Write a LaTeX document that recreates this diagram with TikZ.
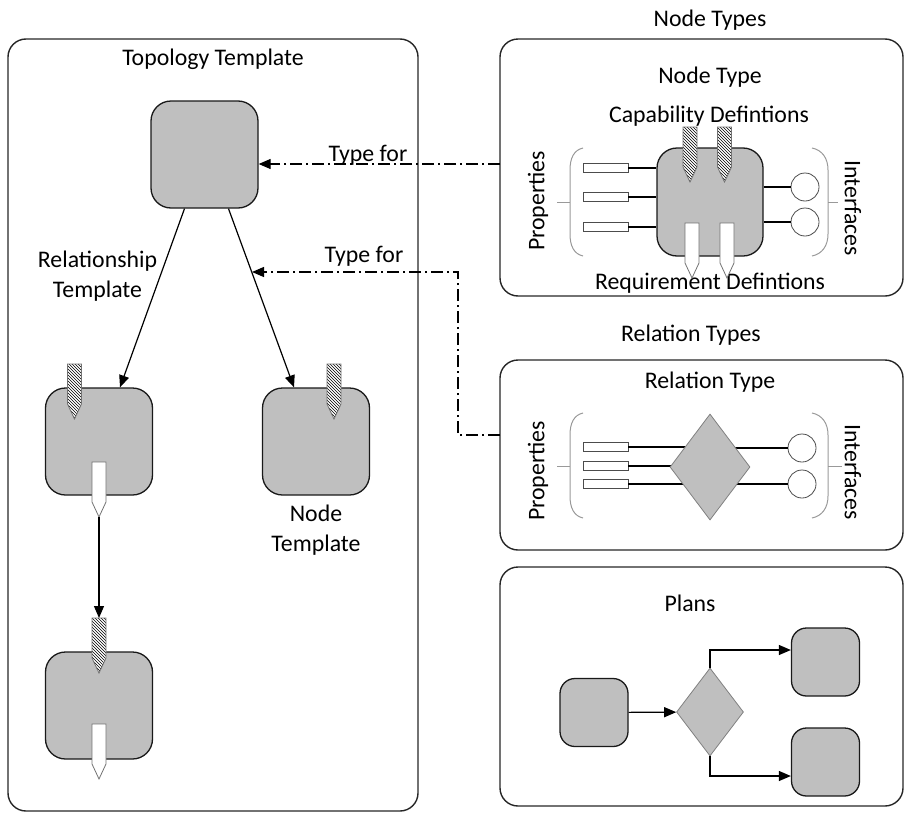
\documentclass[tikz,border=0pt]{standalone}
\usepackage{fontspec}
\setmainfont{Carlito}
\usetikzlibrary{shapes.geometric,arrows.meta,patterns,calc}

\begin{document}
\begin{tikzpicture}[x=1pt,y=-1pt,
  lbl/.style={font=\fontsize{23.8}{29.5}\selectfont, inner sep=0pt, align=center},
  box/.style={draw=black!85, line width=1.4pt, rounded corners=18pt, inner sep=0pt},
  elem/.style={draw=black!90, line width=1.3pt, fill=gray!50, rounded corners=20pt,
    minimum width=107pt, minimum height=107pt, inner sep=0pt},
  small/.style={elem, rounded corners=15pt, minimum width=68pt, minimum height=68pt},
  dia/.style={diamond, draw=black!50, fill=gray!50, line width=0.8pt, inner sep=0pt},
  conn/.style={draw, line width=1.2pt, -{Triangle[length=12pt,width=10pt]}},
  typefor/.style={conn, dash pattern=on 12pt off 4pt on 2pt off 4pt},
  prop/.style={draw=black!70, fill=white, line width=0.8pt, minimum width=45pt,
    minimum height=9pt, inner sep=0pt},
  iface/.style={circle, draw=black!70, fill=white, line width=0.8pt,
    minimum size=28pt, inner sep=0pt},
  paren/.style={draw=black!40, line width=1pt},
  wire/.style={draw, line width=1.2pt},
  pinline/.style={draw=black!55, line width=0.8pt},
  cappin/.pic={\draw[pinline, preaction={fill=white}, pattern=north west lines]
    (-7,0) -- (7,0) -- (7,40) -- (0,55) -- (-7,40) -- cycle;},
  reqpin/.pic={\draw[pinline, fill=white]
    (-7,0) -- (7,0) -- (7,40) -- (0,55) -- (-7,40) -- cycle;}
]
\useasboundingbox (0,0) rectangle (905,814);

% ---------- frames ----------
\node[box, minimum width=410pt, minimum height=772pt] (topo) at (213,425) {};
\node[box, minimum width=403pt, minimum height=257pt] (ntbox) at (701.5,167.5) {};
\node[box, minimum width=403pt, minimum height=190pt] (rtbox) at (701.5,455) {};
\node[box, minimum width=403pt, minimum height=239pt] (plbox) at (701.5,686.5) {};

% ---------- titles ----------
\node[lbl, anchor=base] (tTopo) at (213,65) {Topology Template};
\node[lbl, anchor=base] (tNTs) at (710,26) {Node Types};
\node[lbl, anchor=base] (tNT) at (710,83) {Node Type};
\node[lbl, anchor=base] (tCap) at (709,122) {Capability Defintions};
\node[lbl, anchor=base] (tReq) at (710,289) {Requirement Defintions};
\node[lbl, anchor=base] (tRTs) at (691,341) {Relation Types};
\node[lbl, anchor=base] (tRT) at (710,388) {Relation Type};
\node[lbl, anchor=base] (tPl) at (690,611) {Plans};

% ---------- topology template ----------
\node[elem] (top) at (204.5,154.5) {};
\node[elem] (rel) at (99,441.5) {};
\node[elem] (tmpl) at (316,441.5) {};
\node[elem] (low) at (99,705.5) {};

\pic at (74.5,364) {cappin};
\pic at (99,462) {reqpin};
\pic at (334,364) {cappin};
\pic at (99,618) {cappin};
\pic at (99,724) {reqpin};

\node[lbl, anchor=north] (lRel) at (97.5,251) {Relationship\\Template};
\node[lbl, anchor=north] (lTmpl) at (316,505) {Node\\Template};

\draw[conn] ([xshift=-20pt]top.south) -- ([xshift=21pt]rel.north);
\draw[conn] ([xshift=24pt]top.south) -- ([xshift=-22pt]tmpl.north);

\coordinate (relreq) at (99,517);
\coordinate (lowcap) at (99,618);
\draw[conn] (relreq) -- (lowcap);

% ---------- "Type for" links ----------
\coordinate (tf1) at (500,164);
\draw[typefor] (tf1) -- (tf1 -| top.east);
\node[lbl, anchor=base] (lTf1) at (368,161) {Type for};

\coordinate (tf2) at (500,435);
\coordinate (tfbend) at (458,272);
\coordinate (tf2end) at (252,272);
\draw[typefor] (tf2) -| (tfbend) -- (tf2end);
\node[lbl, anchor=base] (lTf2) at (364,262) {Type for};

% ---------- node type ----------
\node[prop] (np1) at (605.5,168) {};
\node[prop] (np2) at (605.5,197) {};
\node[prop] (np3) at (605.5,227) {};
\node[iface] (ni1) at (805,187) {};
\node[iface] (ni2) at (805,222) {};
\node[elem, minimum width=106pt, minimum height=108pt] (nt) at (710,202) {};
\foreach \p in {np1,np2,np3} \draw[wire] (\p.east) -- (\p.east -| nt.west);
\foreach \i in {ni1,ni2} \draw[wire] (\i.west -| nt.east) -- (\i.west);
\pic at (690,127) {cappin};
\pic at (724.5,127) {cappin};
\pic at (692,223) {reqpin};
\pic at (727,223) {reqpin};

\draw[paren] (583,148) .. controls (574,150) and (570,158) .. (570,170) -- (570,234)
  .. controls (570,246) and (574,254) .. (583,256);
\draw[paren] (557,202) -- (570,202);
\draw[paren] (812,148) .. controls (822,150) and (828,158) .. (828,170) -- (828,234)
  .. controls (828,246) and (822,254) .. (812,256);
\draw[paren] (828,202) -- (838,202);
\node[lbl, rotate=90] (nProps) at (538,201) {Properties};
\node[lbl, rotate=-90] (nIfs) at (853,208) {Interfaces};

% ---------- relation type ----------
\node[prop] (rp1) at (605.5,447) {};
\node[prop] (rp2) at (605.5,466) {};
\node[prop] (rp3) at (605.5,484) {};
\node[iface] (ri1) at (802,448) {};
\node[iface] (ri2) at (802,484) {};
\coordinate (rtc) at (710,467);
\foreach \p in {rp1,rp2,rp3} \draw[wire] (\p.east) -- (\p.east -| rtc);
\foreach \i in {ri1,ri2} \draw[wire] (\i.west -| rtc) -- (\i.west);
\node[dia, minimum width=80pt, minimum height=106pt] (rt) at (rtc) {};

\draw[paren] (583,413) .. controls (574,415) and (570,423) .. (570,435) -- (570,496)
  .. controls (570,508) and (574,516) .. (583,518);
\draw[paren] (557,466) -- (570,466);
\draw[paren] (812,413) .. controls (822,415) and (828,423) .. (828,435) -- (828,496)
  .. controls (828,508) and (822,516) .. (812,518);
\draw[paren] (828,466) -- (842,466);
\node[lbl, rotate=90] (rProps) at (538,471) {Properties};
\node[lbl, rotate=-90] (rIfs) at (853,472) {Interfaces};

% ---------- plans ----------
\node[small] (p0) at (594,712.5) {};
\node[dia, minimum width=67pt, minimum height=88pt] (pd) at (710,712) {};
\node[small] (p1) at (825.5,662) {};
\node[small] (p2) at (825.5,762) {};
\draw[conn] (p0) -- (pd);
\draw[conn] (pd.north) |- ([yshift=12pt]p1.west);
\draw[conn] (pd.south) |- ([yshift=-14pt]p2.west);
\end{tikzpicture}
\end{document}
